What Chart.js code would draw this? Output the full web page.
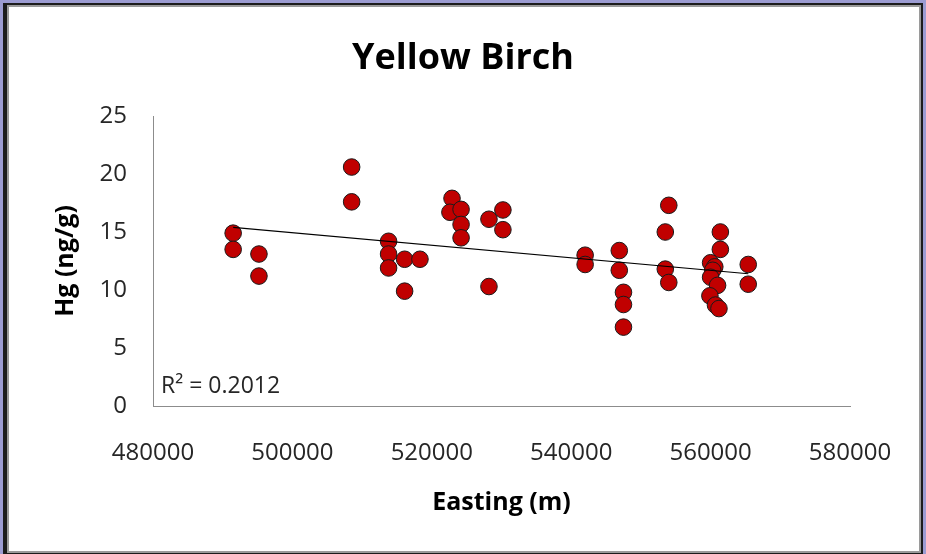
<!DOCTYPE html>
<html>
<head>
<meta charset="utf-8">
<script src="https://cdn.jsdelivr.net/npm/chart.js@4.4.1/dist/chart.umd.min.js"></script>
<style>
  html, body { margin: 0; padding: 0; }
  body { width: 926px; height: 554px; background: #9c9cd2; position: relative; overflow: hidden; }
  #frame {
    position: absolute; left: 3px; top: 3px; width: 914px; height: 548px;
    background: #ffffff;
    border-top: 2px solid #1c1c1c; border-left: 4px solid #1c1c1c;
    border-right: 2px solid #1c1c1c; border-bottom: 2px solid #1c1c1c;
    box-shadow: inset 0 0 0 2px #9a9a9a;
  }
  #chart { position: absolute; left: 0; top: 0; }
</style>
</head>
<body>
<div id="frame"></div>
<canvas id="chart" width="926" height="554"></canvas>
<script>
// Sample locations (easting, m) and mercury concentration in yellow birch foliage (ng/g)
const easting = [
  491500, 491500, 495200, 495200,
  508500, 508500,
  513800, 513800, 513800, 516100, 518300, 516100,
  522900, 522600, 524200, 524200, 524200,
  528200, 530200, 530200, 528200,
  542000, 542000, 546900, 546900, 547500, 547500, 547500,
  554000, 553500, 553500, 554000,
  561400, 561400, 560000, 560600, 560300, 560000, 561000, 559900, 560700, 561200,
  565400, 565400
];
const hg = [
  14.9, 13.5, 13.1, 11.2,
  20.6, 17.6,
  14.2, 13.1, 11.9, 12.65, 12.65, 9.9,
  17.9, 16.7, 16.95, 15.65, 14.5,
  16.1, 16.9, 15.2, 10.3,
  13.0, 12.2, 13.4, 11.7, 9.8, 8.75, 6.8,
  17.3, 15.0, 11.8, 10.65,
  15.0, 13.5, 12.35, 12.0, 11.7, 11.1, 10.4, 9.5, 8.7, 8.4,
  12.2, 10.5
];
const xTicks = [480000, 500000, 520000, 540000, 560000, 580000];
const yTicks = [0, 5, 10, 15, 20, 25];
const r2Label = 'R\u00B2 = 0.2012';

// Least-squares linear trend through the samples
const n = easting.length;
const mx = easting.reduce((a, b) => a + b, 0) / n;
const my = hg.reduce((a, b) => a + b, 0) / n;
let sxy = 0, sxx = 0;
for (let i = 0; i < n; i++) {
  sxy += (easting[i] - mx) * (hg[i] - my);
  sxx += (easting[i] - mx) ** 2;
}
const slope = sxy / sxx;
const intercept = my - slope * mx;
const xMin = Math.min(...easting), xMax = Math.max(...easting);
const trend = [
  { x: xMin, y: intercept + slope * xMin },
  { x: xMax, y: intercept + slope * xMax }
];

const points = easting.map((x, i) => ({ x, y: hg[i] }));

const FONT = 'Open Sans';
const AREA = { left: 153, right: 850, top: 116, bottom: 406 };

// Writes the coefficient of determination inside the plot area
const r2Plugin = {
  id: 'r2Text',
  afterDatasetsDraw(chart) {
    const { ctx, chartArea } = chart;
    ctx.save();
    ctx.font = '23px "' + FONT + '"';
    ctx.fillStyle = '#262626';
    ctx.textAlign = 'left';
    ctx.textBaseline = 'alphabetic';
    ctx.fillText(r2Label, chartArea.left + 8, chartArea.bottom - 13);
    ctx.restore();
  }
};

new Chart(document.getElementById('chart'), {
  type: 'scatter',
  data: {
    datasets: [
      {
        type: 'line',
        data: trend,
        borderColor: '#000000',
        borderWidth: 1.2,
        pointRadius: 0,
        fill: false,
        order: 0
      },
      {
        data: points,
        backgroundColor: '#c00000',
        borderColor: '#1a1a1a',
        borderWidth: 1,
        pointRadius: 8.3,
        order: 1
      }
    ]
  },
  options: {
    responsive: false,
    animation: false,
    layout: { padding: 0 },
    plugins: {
      legend: { display: false },
      tooltip: { enabled: false },
      title: {
        display: true,
        text: 'Yellow Birch',
        color: '#000000',
        font: { family: FONT, size: 36, weight: 'bold', lineHeight: 1.2 },
        padding: { top: 37, bottom: AREA.top - 37 - 43.2 }
      }
    },
    scales: {
      x: {
        type: 'linear',
        min: xTicks[0],
        max: xTicks[xTicks.length - 1],
        afterBuildTicks: (s) => { s.ticks = xTicks.map(v => ({ value: v })); },
        afterFit: (s) => { s.height = 554 - AREA.bottom; s.paddingRight = 926 - AREA.right; },
        ticks: {
          color: '#262626',
          font: { family: FONT, size: 24 },
          padding: 33,
          maxRotation: 0,
          callback: (v) => String(v)
        },
        grid: { drawOnChartArea: false, drawTicks: false },
        border: { display: true, color: '#8c8c8c', width: 1 },
        title: {
          display: true,
          text: 'Easting (m)',
          color: '#000000',
          font: { family: FONT, size: 25, weight: 'bold', lineHeight: 1.2 },
          padding: { top: 0, bottom: 36 }
        }
      },
      y: {
        type: 'linear',
        min: yTicks[0],
        max: yTicks[yTicks.length - 1],
        afterBuildTicks: (s) => { s.ticks = yTicks.map(v => ({ value: v })); },
        afterFit: (s) => { s.width = AREA.left; },
        ticks: {
          color: '#262626',
          font: { family: FONT, size: 24 },
          padding: 26
        },
        grid: { drawOnChartArea: false, drawTicks: false },
        border: { display: true, color: '#8c8c8c', width: 1 },
        title: {
          display: true,
          text: 'Hg (ng/g)',
          color: '#000000',
          font: { family: FONT, size: 25, weight: 'bold', lineHeight: 1.2 },
          padding: { top: 51, bottom: 0 }
        }
      }
    }
  },
  plugins: [r2Plugin]
});
</script>
</body>
</html>
